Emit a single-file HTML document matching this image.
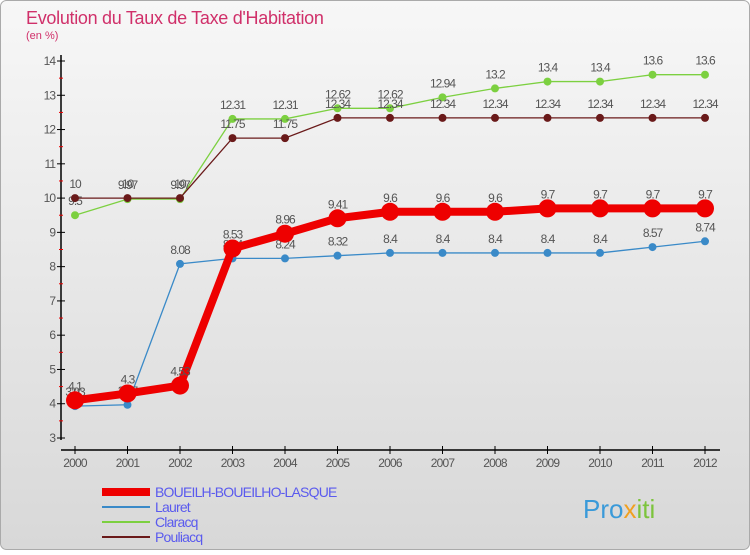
<!DOCTYPE html>
<html><head><meta charset="utf-8"><style>
body{margin:0;width:750px;height:550px;overflow:hidden;font-family:"Liberation Sans",sans-serif}
</style></head><body>
<svg id="chart" width="750" height="550" xmlns="http://www.w3.org/2000/svg" font-family="Liberation Sans, sans-serif">
<defs><linearGradient id="bg" x1="0" y1="0" x2="0" y2="1"><stop offset="0" stop-color="#f7f7f7"/><stop offset="1" stop-color="#d8d8d8"/></linearGradient></defs>
<rect x="0.5" y="0.5" width="749" height="549" rx="6" fill="url(#bg)" stroke="#aaa"/>
<text x="26" y="24" font-size="18" fill="#d0306a" letter-spacing="-0.3">Evolution du Taux de Taxe d'Habitation</text>
<text x="26" y="39" font-size="11" fill="#d0306a">(en %)</text>
<g id="axes"></g><g id="series"></g><g id="legend"></g>
<text x="583" y="518" font-size="26" fill="#3a9ad9">Pro<tspan fill="#f0a020">x</tspan><tspan fill="#7cc43c">iti</tspan></text>
</svg>
<script>
const years=[2000,2001,2002,2003,2004,2005,2006,2007,2008,2009,2010,2011,2012];
const yTicks=[3,4,5,6,7,8,9,10,11,12,13,14];
const names=["BOUEILH-BOUEILHO-LASQUE","Lauret","Claracq","Pouliacq"];
const boueilh=[4.1,4.3,4.53,8.53,8.96,9.41,9.6,9.6,9.6,9.7,9.7,9.7,9.7];
const lauret=[3.93,3.97,8.08,8.24,8.24,8.32,8.4,8.4,8.4,8.4,8.4,8.57,8.74];
const claracq=[9.5,9.97,9.97,12.31,12.31,12.62,12.62,12.94,13.2,13.4,13.4,13.6,13.6];
const pouliacq=[10,10,10,11.75,11.75,12.34,12.34,12.34,12.34,12.34,12.34,12.34,12.34];
const NS="http://www.w3.org/2000/svg";
const X=i=>75+i*52.5, Y=v=>438-(v-3)*(377/11);
function mk(t,a,p){const e=document.createElementNS(NS,t);for(const k in a)e.setAttribute(k,a[k]);p.appendChild(e);return e;}
const ax=document.getElementById('axes');
let e=mk('line',{x1:61,y1:55,x2:61,y2:440,stroke:'#000','stroke-width':1.5},ax);

e=mk('line',{x1:61,y1:450,x2:720,y2:450,stroke:'#000','stroke-width':1.5},ax);

yTicks.forEach(v=>{mk('line',{x1:57,y1:Y(v),x2:65,y2:Y(v),stroke:'#000'},ax);
 if(v<14)mk('line',{x1:59,y1:Y(v+0.5),x2:63,y2:Y(v+0.5),stroke:'#e00'},ax);
 const t=mk('text',{x:55,y:Y(v)+4,'font-size':12,fill:'#555','text-anchor':'end','letter-spacing':'-1'},ax);t.textContent=v;
 });
years.forEach((y,i)=>{mk('line',{x1:X(i),y1:446,x2:X(i),y2:454,stroke:'#000'},ax);
 const t=mk('text',{x:X(i),y:467,'font-size':12,fill:'#555','text-anchor':'middle','letter-spacing':'-0.8'},ax);t.textContent=y;
 });
const sg=document.getElementById('series');
function draw(vals,col,w,r,nm){const g=mk('g',{},sg);
 
 mk('polyline',{points:vals.map((v,i)=>X(i)+','+Y(v)).join(' '),fill:'none',stroke:col,'stroke-width':w},g);
 vals.forEach((v,i)=>{const c=mk('circle',{cx:X(i),cy:Y(v),r:r,fill:col},g);
  
  const t=mk('text',{x:X(i),y:Y(v)-10,'font-size':12,fill:'#555','text-anchor':'middle','letter-spacing':'-1'},g);t.textContent=v;
  });}
draw(lauret,'#3a8ac8',1.3,4,'lauret');
draw(claracq,'#7cd040',1.3,4,'claracq');
draw(pouliacq,'#6a1a1a',1.3,4,'pouliacq');
draw(boueilh,'#ee0000',8,9,'boueilh');
const lg=document.getElementById('legend');
const lc=['#ee0000','#3a8ac8','#7cd040','#6a1a1a'],lw=[8,2,2,2];
names.forEach((n,i)=>{const y=492+i*15;const g=mk('g',{},lg);
 
 mk('line',{x1:102,y1:y,x2:150,y2:y,stroke:lc[i],'stroke-width':lw[i]},g);
 const t=mk('text',{x:155,y:y+5,'font-size':14,fill:'#5a5aee','letter-spacing':'-0.8'},g);t.textContent=n;});
</script>
</body></html>
